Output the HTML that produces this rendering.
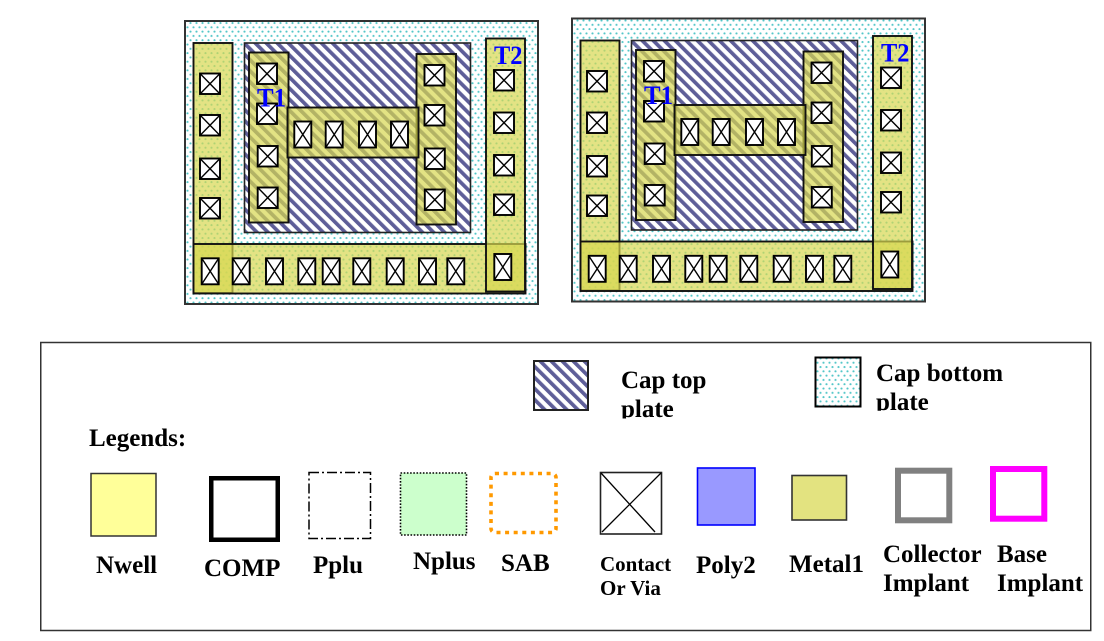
<!DOCTYPE html>
<html>
<head>
<meta charset="utf-8">
<style>
  html,body{margin:0;padding:0;background:#fff;}
  svg{display:block;}
  text{font-family:"Liberation Serif","DejaVu Serif",serif;font-weight:bold;}
</style>
</head>
<body>
<svg width="1104" height="641" viewBox="0 0 1104 641" xmlns="http://www.w3.org/2000/svg">
  <defs>
    <pattern id="hatch" patternUnits="userSpaceOnUse" width="7.8" height="7.8" patternTransform="rotate(-45)">
      <rect x="0" y="0" width="7.8" height="7.8" fill="#ffffff"/>
      <rect x="0" y="0" width="3.7" height="7.8" fill="#5e5e98"/>
    </pattern>
    <pattern id="dots" patternUnits="userSpaceOnUse" width="6" height="8.6">
      <rect x="0" y="0" width="6" height="8.6" fill="#ffffff"/>
      <circle cx="1.5" cy="1.5" r="1.05" fill="#52c6c8"/>
      <circle cx="4.5" cy="5.8" r="1.05" fill="#52c6c8"/>
    </pattern>
    <clipPath id="clipTop"><rect x="600" y="360" width="150" height="58.5"/></clipPath>
    <clipPath id="clipBot"><rect x="860" y="350" width="200" height="60.7"/></clipPath>

    <g id="c20">
      <rect x="0" y="0" width="20" height="20.5" fill="#fff" stroke="#000" stroke-width="1.9"/>
      <path d="M0 0 L20 20.5 M20 0 L0 20.5" stroke="#000" stroke-width="1.4"/>
    </g>
    <g id="c17">
      <rect x="0" y="0" width="17" height="26" fill="#fff" stroke="#000" stroke-width="1.9"/>
      <path d="M0 0 L17 26 M17 0 L0 26" stroke="#000" stroke-width="1.4"/>
    </g>

    <g id="diagram">
      <rect x="185" y="21" width="353" height="283" fill="url(#dots)" stroke="#333" stroke-width="2"/>
      <rect x="244.5" y="43" width="226" height="189.5" fill="url(#hatch)" stroke="#222" stroke-width="1.6"/>
      <g fill="rgb(215,215,80)" fill-opacity="0.7" stroke="#111" stroke-width="1.9">
        <rect x="193.5" y="43" width="39" height="250"/>
        <rect x="193.5" y="244" width="332" height="49.5"/>
        <rect x="486" y="38.5" width="39" height="253"/>
        <rect x="249" y="52.5" width="39.5" height="170"/>
        <rect x="416.5" y="54" width="39.5" height="170.5"/>
        <rect x="287.5" y="107.5" width="131" height="50"/>
      </g>
      <use href="#c20" x="200" y="73.5"/>
      <use href="#c20" x="200" y="115"/>
      <use href="#c20" x="200" y="158.5"/>
      <use href="#c20" x="200" y="198"/>

      <use href="#c20" x="257" y="63.5"/>
      <use href="#c20" x="257" y="103.5"/>
      <use href="#c20" x="257.7" y="146"/>
      <use href="#c20" x="257.7" y="187.5"/>

      <use href="#c20" x="424.5" y="65"/>
      <use href="#c20" x="424.5" y="105"/>
      <use href="#c20" x="424.8" y="148.5"/>
      <use href="#c20" x="424.8" y="189.5"/>

      <use href="#c20" x="494" y="70"/>
      <use href="#c20" x="494" y="112.5"/>
      <use href="#c20" x="494" y="155"/>
      <use href="#c20" x="494" y="194.5"/>

      <use href="#c17" x="294.3" y="121.5"/>
      <use href="#c17" x="325.7" y="121.5"/>
      <use href="#c17" x="359" y="121.5"/>
      <use href="#c17" x="391" y="121.5"/>

      <use href="#c17" x="201.7" y="258.3"/>
      <use href="#c17" x="232.7" y="258.3"/>
      <use href="#c17" x="266" y="258.3"/>
      <use href="#c17" x="298.3" y="258.3"/>
      <use href="#c17" x="322.7" y="258.3"/>
      <use href="#c17" x="353.3" y="258.3"/>
      <use href="#c17" x="386.7" y="258.3"/>
      <use href="#c17" x="419" y="258.3"/>
      <use href="#c17" x="447.3" y="258.3"/>
      <use href="#c17" x="494.3" y="254"/>

      <text x="257" y="106.5" font-size="26" fill="#0000ff" textLength="29" lengthAdjust="spacingAndGlyphs">T1</text>
      <text x="494" y="64" font-size="26" fill="#0000ff" textLength="28.5" lengthAdjust="spacingAndGlyphs">T2</text>
    </g>
  </defs>

  <use href="#diagram"/>
  <use href="#diagram" transform="translate(387,-2.5)"/>

  <rect x="40.75" y="342.5" width="1050" height="288" fill="#fff" stroke="#333" stroke-width="1.5"/>

  <rect x="534" y="361" width="54" height="49" fill="url(#hatch)" stroke="#222" stroke-width="2"/>
  <g clip-path="url(#clipTop)" font-size="25" fill="#000">
    <text x="621" y="388">Cap top</text>
    <text x="621" y="417">plate</text>
  </g>
  <rect x="815.5" y="357.5" width="45" height="49" fill="url(#dots)" stroke="#000" stroke-width="2"/>
  <g clip-path="url(#clipBot)" font-size="25" fill="#000">
    <text x="876" y="381">Cap bottom</text>
    <text x="876" y="410">plate</text>
  </g>

  <text x="89" y="446" font-size="25" fill="#000">Legends:</text>

  <rect x="91" y="473.5" width="65" height="62.5" fill="#ffff99" stroke="#333" stroke-width="1.5"/>
  <text x="96" y="573" font-size="25">Nwell</text>

  <rect x="211.25" y="478.25" width="66.5" height="61.5" fill="#fff" stroke="#000" stroke-width="4.5"/>
  <text x="204" y="576" font-size="25">COMP</text>

  <rect x="309" y="472.5" width="61.5" height="66" fill="#fff" stroke="#000" stroke-width="1.5" stroke-dasharray="10 3 2 3"/>
  <text x="313" y="573" font-size="25">Pplu</text>

  <rect x="400.5" y="473" width="66" height="62" fill="#ccffcc" stroke="#000" stroke-width="1.6" stroke-dasharray="1.6 1.6"/>
  <text x="413" y="569" font-size="25">Nplus</text>

  <rect x="491" y="473.5" width="65" height="59" rx="4" fill="#fff" stroke="#ff9900" stroke-width="3.6" stroke-dasharray="4 4.6"/>
  <text x="501" y="571" font-size="25">SAB</text>

  <rect x="600.5" y="472.5" width="61" height="61.5" fill="#fff" stroke="#222" stroke-width="1.6"/>
  <path d="M601 473 L655 532 M661 473 L602 532" stroke="#000" stroke-width="1.3"/>
  <text x="600" y="571" font-size="21">Contact</text>
  <text x="600" y="595" font-size="21">Or Via</text>

  <rect x="697.5" y="468" width="57.5" height="57" fill="#9999ff" stroke="#0000ff" stroke-width="1.6"/>
  <text x="696" y="573" font-size="25">Poly2</text>

  <rect x="792" y="475.5" width="54.5" height="44.5" fill="#e3e380" stroke="#333" stroke-width="1.6"/>
  <text x="789" y="572" font-size="25">Metal1</text>

  <rect x="898" y="470.7" width="51.3" height="49.6" fill="#fff" stroke="#808080" stroke-width="6"/>
  <text x="883" y="562" font-size="25">Collector</text>
  <text x="883" y="591" font-size="25">Implant</text>

  <rect x="993" y="469" width="51.3" height="49.7" fill="#fff" stroke="#ff00ff" stroke-width="6"/>
  <text x="997" y="562" font-size="25">Base</text>
  <text x="997" y="591" font-size="25">Implant</text>
</svg>
</body>
</html>
